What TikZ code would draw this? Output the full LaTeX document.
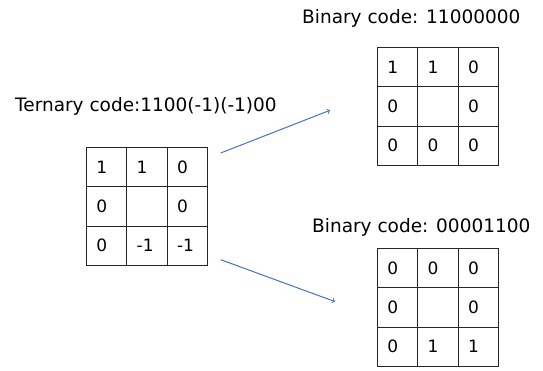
\documentclass[tikz,border=0pt]{standalone}
\usepackage{fontspec}
\setmainfont{DejaVu Sans}
\usetikzlibrary{arrows}
\definecolor{arrowblue}{RGB}{68,114,196}

\begin{document}
\begin{tikzpicture}[x=1pt,y=-1pt,>=to,
	cell/.style={draw=black!85,line width=0.8pt,anchor=north west,minimum height=39.3pt,text width=20.3pt,inner xsep=10pt,inner ysep=0pt,align=left,font=\fontsize{17}{19}\selectfont},
	caption/.style={anchor=base west,inner sep=0pt,font=\fontsize{18.5}{22}\selectfont},
	link/.style={->,draw=arrowblue,line width=1pt}]
	\useasboundingbox (0,0) rectangle (543,370);
	% ternary pattern and the two binary halves
	\foreach \v [count=\i from 0] in {1,1,0,0,{},0,0,-1,-1}
		\node[cell] (t\i) at ({86+40.3*mod(\i,3)},{147+39.3*int(\i/3)}) {\v};
	\foreach \v [count=\i from 0] in {1,1,0,0,{},0,0,0,0}
		\node[cell] (u\i) at ({377+40.3*mod(\i,3)},{47+39.3*int(\i/3)}) {\v};
	\foreach \v [count=\i from 0] in {0,0,0,0,{},0,0,1,1}
		\node[cell] (b\i) at ({377+40.3*mod(\i,3)},{248+39.3*int(\i/3)}) {\v};
	\node[caption] (tcap) at (15,111) {Ternary code:1100(-1)(-1)00};
	\node[caption] (ucap) at (302,23) {Binary code: 11000000};
	\node[caption] (bcap) at (312,232) {Binary code: 00001100};
	% arrows
	\coordinate (up0) at ([shift={(13,6)}]t2.north east);
	\coordinate (up1) at ([shift={(-47,24)}]u3.north west);
	\coordinate (dn0) at ([shift={(13,-6)}]t8.south east);
	\coordinate (dn1) at ([shift={(-42,-25)}]b6.north west);
	\draw[link] (up0) -- (up1);
	\draw[link] (dn0) -- (dn1);
\end{tikzpicture}
\end{document}
